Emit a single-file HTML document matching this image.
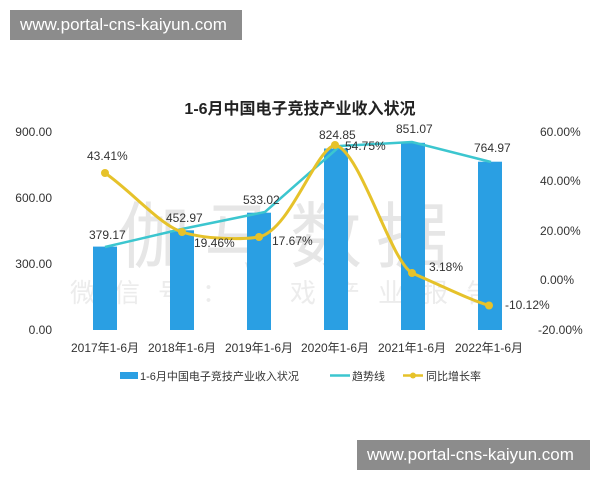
<!DOCTYPE html>
<html><head><meta charset="utf-8"><style>
body{margin:0;background:#fff;width:600px;height:480px;overflow:hidden;font-family:"Liberation Sans","Noto Sans CJK SC",sans-serif}
.wm{position:absolute;background:#8c8c8c;color:#fff;font-size:17px;line-height:30px;padding:0 10px}
</style></head><body>
<div class="wm" style="left:10px;top:10px;width:212px">www.portal-cns-kaiyun.com</div>
<div class="wm" style="left:357px;top:440px;width:213px">www.portal-cns-kaiyun.com</div>
<svg width="600" height="480" style="position:absolute;left:0;top:0" font-family="Liberation Sans, Noto Sans CJK SC, sans-serif">
<text x="300" y="114" font-size="16" font-weight="bold" text-anchor="middle" fill="#222">1-6月中国电子竞技产业收入状况</text>
<text x="290" y="262" font-size="72" fill="#e6e6e6" text-anchor="middle" letter-spacing="14">伽马数据</text>
<text x="290" y="302" font-size="26" fill="#ececec" text-anchor="middle" letter-spacing="18">微信号：游戏产业报告</text>
<g font-size="12" fill="#333">
<text x="52" y="136" text-anchor="end">900.00</text>
<text x="52" y="202" text-anchor="end">600.00</text>
<text x="52" y="268" text-anchor="end">300.00</text>
<text x="52" y="334" text-anchor="end">0.00</text>
<text x="540" y="136">60.00%</text>
<text x="540" y="185">40.00%</text>
<text x="540" y="235">20.00%</text>
<text x="540" y="284">0.00%</text>
<text x="538" y="334">-20.00%</text>
</g>
<g fill="#2a9fe3">
<rect x="93" y="246.6" width="24" height="83.4"/>
<rect x="170" y="230.3" width="24" height="99.7"/>
<rect x="247" y="212.7" width="24" height="117.3"/>
<rect x="324" y="148.5" width="24" height="181.5"/>
<rect x="401" y="142.8" width="24" height="187.2"/>
<rect x="478" y="161.7" width="24" height="168.3"/>
</g>
<polyline points="105,247 182,229 265,212 340,146 412,142 491,162" fill="none" stroke="#3cc6cf" stroke-width="2.5"/>
<path d="M105,173 C130,190 160,225 182,232 S240,240 259,237 C290,230 315,150 335,145 C360,150 390,260 412,273 C440,285 470,300 489,305.5" fill="none" stroke="#e6c22a" stroke-width="3"/>
<g fill="#e6c22a"><circle cx="105" cy="173" r="4"/><circle cx="182" cy="232" r="4"/><circle cx="259" cy="237" r="4"/><circle cx="335" cy="145" r="4"/><circle cx="412" cy="273" r="4"/><circle cx="489" cy="305.5" r="4"/></g>
<g font-size="12" fill="#333">
<text x="89" y="239">379.17</text>
<text x="166" y="222">452.97</text>
<text x="243" y="204">533.02</text>
<text x="319" y="139">824.85</text>
<text x="396" y="133">851.07</text>
<text x="474" y="152">764.97</text>
<text x="87" y="160">43.41%</text>
<text x="194" y="247">19.46%</text>
<text x="272" y="245">17.67%</text>
<text x="345" y="150">54.75%</text>
<text x="429" y="271">3.18%</text>
<text x="505" y="309">-10.12%</text>
</g>
<g font-size="12" fill="#333" text-anchor="middle">
<text x="105" y="352">2017年1-6月</text><text x="182" y="352">2018年1-6月</text><text x="259" y="352">2019年1-6月</text>
<text x="335" y="352">2020年1-6月</text><text x="412" y="352">2021年1-6月</text><text x="489" y="352">2022年1-6月</text>
</g>
<rect x="120" y="372" width="18" height="7" fill="#2a9fe3"/>
<text x="140" y="380" font-size="11" fill="#333">1-6月中国电子竞技产业收入状况</text>
<line x1="330" y1="375.5" x2="350" y2="375.5" stroke="#3cc6cf" stroke-width="2.5"/>
<text x="352" y="380" font-size="11" fill="#333">趋势线</text>
<line x1="403" y1="375.5" x2="423" y2="375.5" stroke="#e6c22a" stroke-width="2.5"/>
<circle cx="413" cy="375.5" r="3" fill="#e6c22a"/>
<text x="426" y="380" font-size="11" fill="#333">同比增长率</text>
</svg>
</body></html>
